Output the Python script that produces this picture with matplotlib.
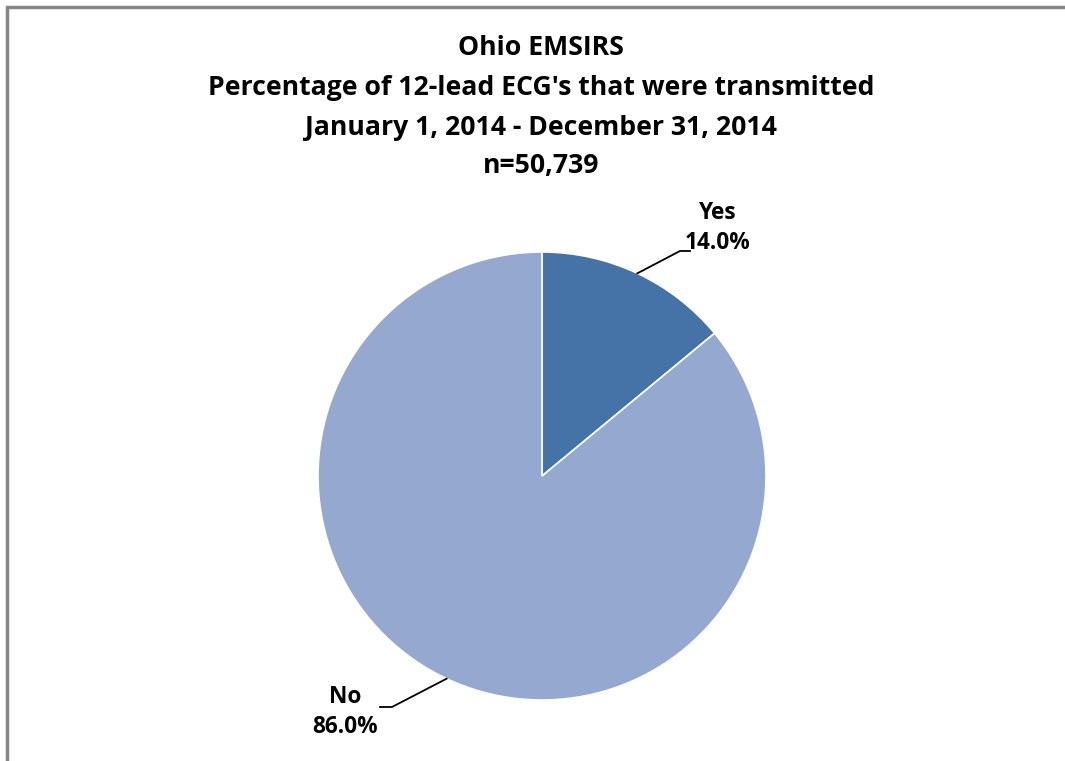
import numpy as np
import matplotlib.pyplot as plt
from matplotlib.patches import Rectangle

labels = ['Yes', 'No']
values = [14.0, 86.0]
colors = ['#4573A7', '#95A9D0']
title_lines = ['Ohio EMSIRS',
               "Percentage of 12-lead ECG's that were transmitted",
               'January 1, 2014 - December 31, 2014',
               'n=50,739']

W, H = 1065, 761
plt.rcParams['font.family'] = ['Open Sans', 'DejaVu Sans']

fig = plt.figure(figsize=(W / 100, H / 100), dpi=100)
ax = fig.add_axes([0, 0, 1, 1])

# outer frame (right and bottom edges fall outside the crop)
ax.add_patch(Rectangle((7, -30), W + 60, H - 7 + 30, fill=False,
                       edgecolor='#878787', linewidth=2.5))

cx, cy, r = 542, H - 476, 224
wedges, _ = ax.pie(values, colors=colors, startangle=90, counterclock=False,
                   center=(cx, cy), radius=r, frame=True,
                   wedgeprops=dict(edgecolor='white', linewidth=1.2))
ax.set_xlim(0, W)
ax.set_ylim(0, H)
ax.set_aspect('equal')
ax.axis('off')

# title
ys = [48, 88, 128, 166]
for line, y in zip(title_lines, ys):
    ax.text(541, H - y, line, ha='center', va='center', fontsize=19.2,
            fontweight='bold', color='#000000')

# data labels with leader lines
elbows = [((680, 251), (690, 251)), ((392, 707), (380, 707))]
text_pos = [(718, 228), (345, 712)]
cum = 0
for lab, v, (e1, e2), (tx, ty) in zip(labels, values, elbows, text_pos):
    mid = 90 - (cum + v / 2) * 3.6
    cum += v
    px = cx + r * np.cos(np.radians(mid))
    py = cy + r * np.sin(np.radians(mid))
    ax.plot([px, e1[0], e2[0]], [py, H - e1[1], H - e2[1]], color='black',
            linewidth=1.3)
    ax.text(tx, H - ty, f'{lab}\n{v:.1f}%', ha='center', va='center',
            fontsize=16.3, fontweight='bold', linespacing=1.3)

fig.savefig('out.png', dpi=100)
